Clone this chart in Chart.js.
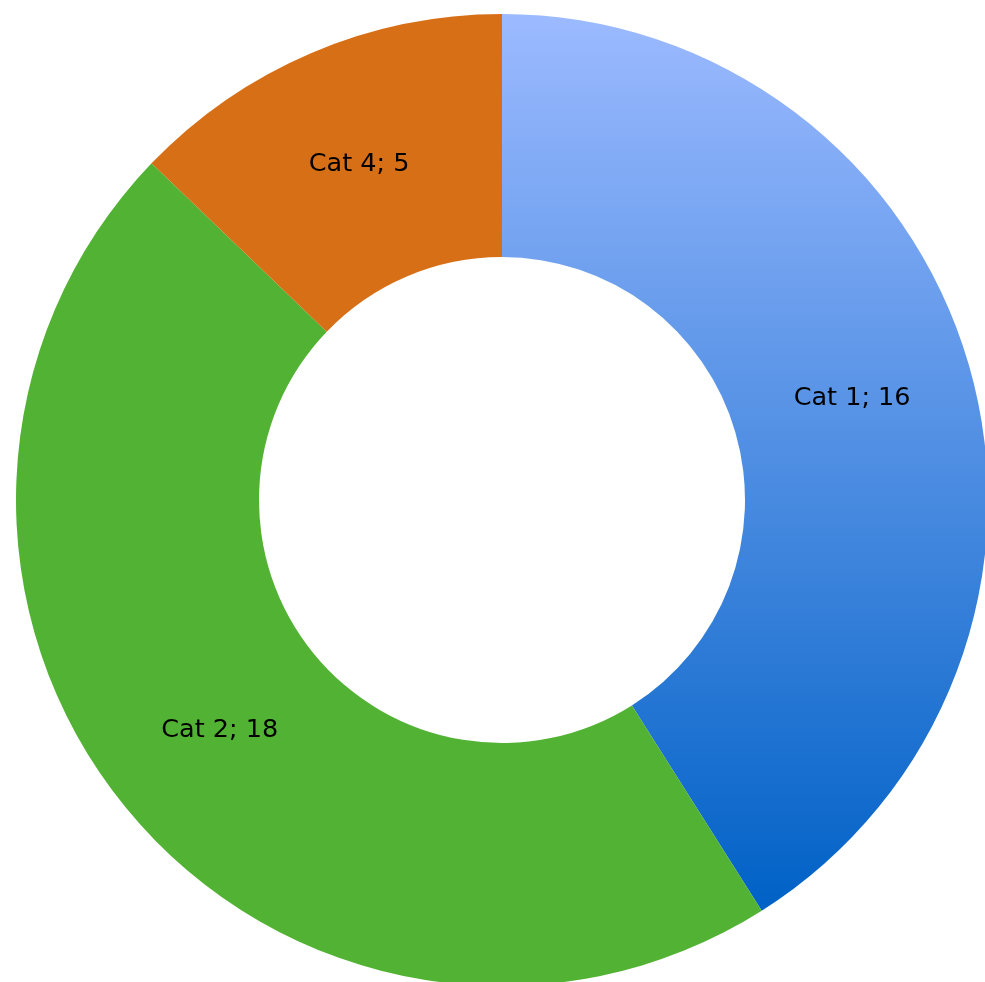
<!DOCTYPE html>
<html>
<head>
<meta charset="utf-8">
<script src="https://cdn.jsdelivr.net/npm/chart.js@4"></script>
<style>
  html, body { margin: 0; padding: 0; background: #fff; overflow: hidden; }
  #wrap { width: 985px; height: 982px; position: relative; }
</style>
</head>
<body>
<div id="wrap"><canvas id="donut"></canvas></div>
<script>
// Chart data
const categories = ['Cat 1', 'Cat 2', 'Cat 3', 'Cat 4'];
const values = [16, 18, 0, 5];
const colors = [null, '#52b233', '#999999', '#d76f17'];

const OUTER = 486;

// Vertical gradient for the first slice, spanning its own height
function cat1Fill(context) {
    const chart = context.chart;
    const area = chart.chartArea;
    if (!area) return '#5a8fe8';
    const cy = (area.top + area.bottom) / 2;
    const total = values.reduce((a, b) => a + b, 0);
    const endAngle = 2 * Math.PI * values[0] / total;
    const top = cy - OUTER;
    const bottom = cy - OUTER * Math.cos(endAngle);
    const g = chart.ctx.createLinearGradient(0, top, 0, bottom);
    g.addColorStop(0, '#9cbaff');
    g.addColorStop(1, '#0061c6');
    return g;
}

// Draw "Cat n; v" in the middle of each slice
const sliceLabels = {
    id: 'sliceLabels',
    afterDatasetsDraw(chart) {
        const ctx = chart.ctx;
        const meta = chart.getDatasetMeta(0);
        ctx.save();
        ctx.font = '25.5px "DejaVu Sans"';
        ctx.fillStyle = '#000';
        ctx.textAlign = 'center';
        ctx.textBaseline = 'middle';
        meta.data.forEach(function(arc, i) {
            if (!values[i]) return;
            const p = arc.getCenterPoint();
            ctx.fillText(categories[i] + '; ' + values[i], p.x, p.y);
        });
        ctx.restore();
    }
};

new Chart(document.getElementById('donut'), {
    type: 'doughnut',
    data: {
        labels: categories,
        datasets: [{
            data: values,
            backgroundColor: function(context) {
                if (context.dataIndex === 0) return cat1Fill(context);
                return colors[context.dataIndex];
            },
            borderWidth: 0,
            clip: false
        }]
    },
    options: {
        responsive: true,
        maintainAspectRatio: false,
        animation: false,
        radius: OUTER,
        cutout: '50%',
        layout: { padding: { left: 19, top: 18, right: 0, bottom: 0 } },
        plugins: {
            legend: { display: false },
            tooltip: { enabled: false }
        }
    },
    plugins: [sliceLabels]
});
</script>
</body>
</html>
